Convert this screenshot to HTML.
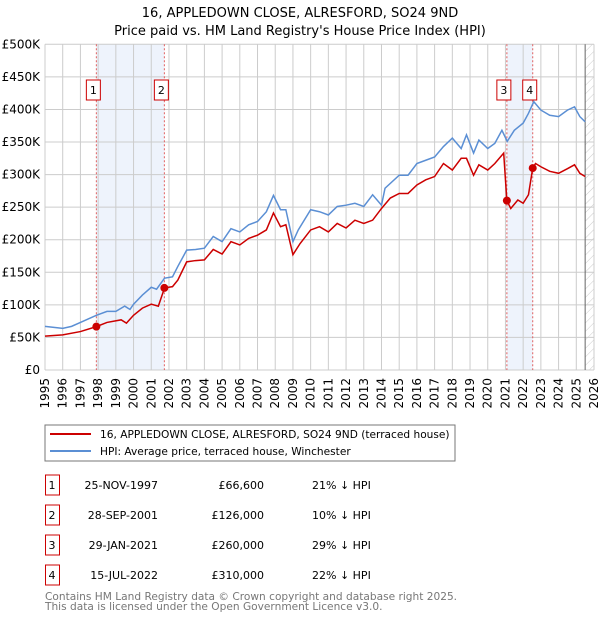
<!DOCTYPE html>
<html><head><meta charset="utf-8"><style>
body{margin:0;background:#fff;font-family:"DejaVu Sans","Liberation Sans",sans-serif;}
svg text{font-family:"DejaVu Sans","Liberation Sans",sans-serif;}
</style></head><body>
<svg id="c" width="600" height="620" xmlns="http://www.w3.org/2000/svg">
<defs><pattern id="hatch" width="6" height="6" patternUnits="userSpaceOnUse" patternTransform="rotate(45)"><line x1="0" y1="0" x2="0" y2="6" stroke="#ccc" stroke-width="1"/></pattern></defs>
<text x="300" y="17" text-anchor="middle" font-size="13">16, APPLEDOWN CLOSE, ALRESFORD, SO24 9ND</text>
<text x="300" y="35" text-anchor="middle" font-size="13">Price paid vs. HM Land Registry's House Price Index (HPI)</text>
<g id="plot"></g>
<rect x="45" y="425" width="410" height="36" fill="#fff" stroke="#777"/>
<line x1="50" y1="434" x2="91" y2="434" stroke="#cc0000" stroke-width="2"/>
<text x="100" y="438" font-size="10.6">16, APPLEDOWN CLOSE, ALRESFORD, SO24 9ND (terraced house)</text>
<line x1="50" y1="451" x2="91" y2="451" stroke="#5b8fd4" stroke-width="2"/>
<text x="100" y="455" font-size="10.6">HPI: Average price, terraced house, Winchester</text>
<g id="table"></g>
<text x="45" y="600" font-size="10.6" fill="#777">Contains HM Land Registry data © Crown copyright and database right 2025.</text>
<text x="45" y="610" font-size="10.6" fill="#777">This data is licensed under the Open Government Licence v3.0.</text>
</svg>
<script>
const hpiYears=[1995,1996,1996.5,1997,1997.9,1998.5,1999,1999.5,1999.8,2000,2000.5,2001,2001.3,2001.75,2002.2,2002.5,2003,2003.5,2004,2004.5,2005,2005.5,2006,2006.5,2007,2007.5,2007.9,2008.3,2008.6,2009,2009.3,2010,2010.5,2011,2011.5,2012,2012.5,2013,2013.5,2014,2014.2,2015,2015.5,2016,2016.5,2017,2017.5,2018,2018.5,2018.8,2019.2,2019.5,2020,2020.4,2020.8,2021.1,2021.5,2022,2022.3,2022.6,2023,2023.5,2024,2024.5,2024.9,2025.2,2025.5];
const hpiValues=[67,64,67,73,84,90,90,98,93,101,115,127,124,141,143,159,184,185,187,205,197,217,212,223,228,243,268,246,246,197,215,246,243,238,251,253,256,251,269,253,279,299,299,317,322,327,343,356,340,361,333,353,340,348,368,351,368,379,394,412,399,391,389,399,404,389,381];
const priceYears=[1995,1996,1997,1997.9,1998.5,1999.3,1999.6,2000,2000.5,2001,2001.4,2001.75,2002.2,2002.5,2003,2003.5,2004,2004.5,2005,2005.5,2006,2006.5,2007,2007.5,2007.9,2008.3,2008.6,2009,2009.4,2010,2010.5,2011,2011.5,2012,2012.5,2013,2013.5,2014,2014.5,2015,2015.5,2016,2016.5,2017,2017.5,2018,2018.5,2018.8,2019.2,2019.5,2020,2020.4,2020.9,2021.08,2021.3,2021.7,2022,2022.3,2022.54,2022.7,2023,2023.5,2024,2024.5,2024.9,2025.2,2025.5];
const priceValues=[52,54,59,66.6,73,77,72,84,95,101,98,126,128,138,166,168,169,185,178,197,192,202,207,215,241,220,223,177,194,215,220,212,225,218,230,225,230,248,264,271,271,284,292,297,317,307,325,325,299,315,307,317,333,260,248,261,256,269,310,317,312,305,302,309,315,302,297];
const saleLabels=["1","2","3","4"];
const saleYears=[1997.9,2001.74,2021.08,2022.54];
const saleValues=[66.6,126,260,310];
const saleDates=["25-NOV-1997","28-SEP-2001","29-JAN-2021","15-JUL-2022"];
const salePrices=["£66,600","£126,000","£260,000","£310,000"];
const saleDiffs=["21% ↓ HPI","10% ↓ HPI","29% ↓ HPI","22% ↓ HPI"];
const yTicks=[0,50,100,150,200,250,300,350,400,450,500];
const yTickLabels=["£0","£50K","£100K","£150K","£200K","£250K","£300K","£350K","£400K","£450K","£500K"];
const NS="http://www.w3.org/2000/svg";
const X0=45,X1=594,Y0=370,Y1=44.3,T0=1995,T1=2026,DATA_END=2025.5;
const xs=t=>X0+(t-T0)/(T1-T0)*(X1-X0);
const ys=v=>Y0-v/500*(Y0-Y1);
const plot=document.getElementById('plot');
function mk(tag,attrs,parent){const e=document.createElementNS(NS,tag);for(const k in attrs)e.setAttribute(k,attrs[k]);(parent||plot).appendChild(e);return e;}
for(let i=0;i<2;i++){const a=saleYears[i*2],b=saleYears[i*2+1];
const r=mk('rect',{x:xs(a),y:Y1,width:xs(b)-xs(a),height:Y0-Y1,fill:'#eef3fc'});

}
for(let y=T0;y<=T1;y++){const l=mk('line',{x1:xs(y),x2:xs(y),y1:Y1,y2:Y0,stroke:'#ccc','stroke-width':1});


const t=mk('text',{x:0,y:0,'font-size':12,'text-anchor':'end',transform:`translate(${xs(y)+4},${Y0+8}) rotate(-90)`});t.textContent=y;

}
yTicks.forEach((v,i)=>{const l=mk('line',{x1:X0,x2:X1,y1:ys(v),y2:ys(v),stroke:'#ccc','stroke-width':1});


const t=mk('text',{x:40,y:ys(v)+4,'font-size':12,'text-anchor':'end'});t.textContent=yTickLabels[i];

});
const h=mk('rect',{x:xs(DATA_END),y:Y1,width:X1-xs(DATA_END),height:Y0-Y1,fill:'url(#hatch)'});


const hl=mk('line',{x1:xs(DATA_END),x2:xs(DATA_END),y1:Y1,y2:Y0,stroke:'#666'});


saleYears.forEach((t,i)=>{const l=mk('line',{x1:xs(t),x2:xs(t),y1:Y1,y2:Y0,stroke:'#e06060','stroke-dasharray':'2,2'});


const r=mk('rect',{x:xs(t)-10,y:80,width:14,height:20,fill:'#fff',stroke:'#cc0000'});


const tx=mk('text',{x:xs(t)-3,y:94,'font-size':11,'text-anchor':'middle'});tx.textContent=saleLabels[i];

});
const hp=mk('polyline',{points:hpiYears.map((t,i)=>xs(t)+','+ys(hpiValues[i])).join(' '),fill:'none',stroke:'#5b8fd4','stroke-width':1.5});


const pp=mk('polyline',{points:priceYears.map((t,i)=>xs(t)+','+ys(priceValues[i])).join(' '),fill:'none',stroke:'#cc0000','stroke-width':1.5});


saleYears.forEach((t,i)=>{const c=mk('circle',{cx:xs(t),cy:ys(saleValues[i]),r:4,fill:'#cc0000'});

});
const tb=document.getElementById('table');
saleLabels.forEach((s,i)=>{const cy=485+i*30;
const r=mk('rect',{x:45.5,y:cy-10,width:14,height:20,fill:'#fff',stroke:'#cc0000'},tb);


const a=mk('text',{x:52,y:cy+4,'font-size':11,'text-anchor':'middle'},tb);a.textContent=s;


const d=mk('text',{x:158,y:cy+4,'font-size':11,'text-anchor':'end'},tb);d.textContent=saleDates[i];


const p=mk('text',{x:264,y:cy+4,'font-size':11,'text-anchor':'end'},tb);p.textContent=salePrices[i];


const q=mk('text',{x:312,y:cy+4,'font-size':11},tb);q.textContent=saleDiffs[i];

});
</script>
</body></html>
